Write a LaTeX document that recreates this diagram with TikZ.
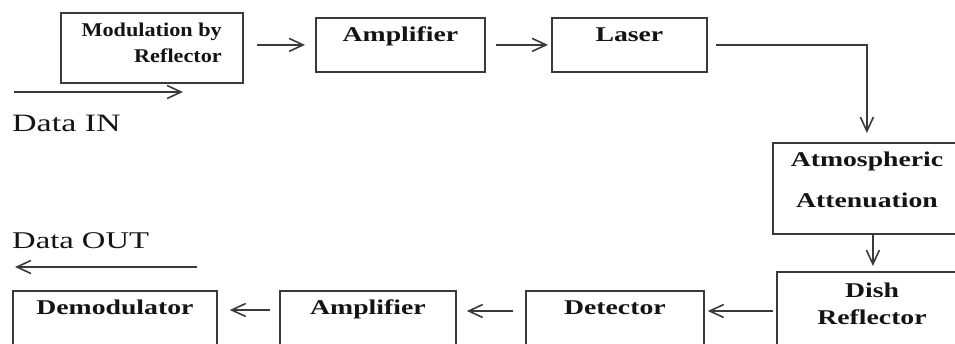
\documentclass[tikz,border=0pt]{standalone}
\usepackage{fontspec}
\setmainfont{Liberation Serif}
\newfontfamily\boxfont{Liberation Serif}[FakeStretch=1.32]
\newfontfamily\modfont{Liberation Serif}[FakeStretch=1.14]
\newfontfamily\datafont{Liberation Serif}[FakeStretch=1.36]
\usetikzlibrary{arrows.meta}
\definecolor{lineclr}{HTML}{3A3A3A}
\definecolor{txtclr}{HTML}{141414}
\tikzset{
  box/.style={draw=lineclr, line width=1.8pt, rectangle, anchor=north west, inner sep=0pt},
  arr/.style={draw=lineclr, line width=1.6pt, -{Straight Barb[length=14pt,width=13pt,line width=1.6pt]}},
  lbl/.style={text=txtclr, font=\boxfont\bfseries\fontsize{21}{27}\selectfont, inner sep=0pt, anchor=base},
  datalbl/.style={text=txtclr, inner sep=0pt, anchor=base west}
}
\begin{document}
\begin{tikzpicture}[x=1pt,y=-1pt]
\useasboundingbox (0,0) rectangle (955,344);
\clip (0,0) rectangle (955,344);
% boxes
\node[box, minimum width=182pt, minimum height=70pt] (mod) at (60,12) {};
\node[box, minimum width=169pt, minimum height=54pt] (amp1) at (315,17) {};
\node[box, minimum width=155pt, minimum height=54pt] (laser) at (551,17) {};
\node[box, minimum width=188pt, minimum height=91pt] (atm) at (772,142) {};
\node[box, minimum width=192pt, minimum height=100pt] (dish) at (776,271) {};
\node[box, minimum width=178pt, minimum height=80pt] (det) at (525,290) {};
\node[box, minimum width=176pt, minimum height=80pt] (amp2) at (279,290) {};
\node[box, minimum width=204pt, minimum height=80pt] (demod) at (12,290) {};
% box texts (multi-line nodes: base = last line's baseline)
\node[text=txtclr, font=\modfont\bfseries\fontsize{19.5}{26}\selectfont, inner sep=0pt, anchor=base east, align=right] (modt) at (222,63) {Modulation by\\Reflector};
\node[lbl] (amp1t) at ([yshift=-25pt]amp1.north) {Amplifier};
\node[lbl] (lasert) at ([yshift=-25pt]laser.north) {Laser};
\node[lbl, align=center, font=\boxfont\bfseries\fontsize{21}{41}\selectfont] (atmt) at (867,208) {Atmospheric\\Attenuation};
\node[lbl, align=center] (disht) at (872,324) {Dish\\Reflector};
\node[lbl] (dett) at ([yshift=-25pt]det.north) {Detector};
\node[lbl] (amp2t) at ([yshift=-25pt]amp2.north) {Amplifier};
\node[lbl] (demodt) at ([yshift=-25pt]demod.north) {Demodulator};
% data labels
\node[datalbl, font=\datafont\fontsize{25}{30}\selectfont] (din) at (12,132) {Data IN};
\node[datalbl, font=\datafont\fontsize{24}{30}\selectfont] (dout) at (12,249) {Data OUT};
\coordinate (dinA) at (14,92);
\coordinate (dinB) at (183,92);
\coordinate (doutA) at (197,267);
\coordinate (doutB) at (15,267);
% connectors
\draw[arr] (dinA) -- (dinB);
\draw[arr] (doutA) -- (doutB);
\draw[arr, shorten <=13pt, shorten >=10pt] (mod.east |- amp1.west) -- (amp1.west);
\draw[arr, shorten <=10pt, shorten >=3pt] (amp1.east) -- (laser.west);
\draw[arr, shorten <=8pt, shorten >=9pt] (laser.east) -| (atm.north);
\draw[arr, shorten >=5pt] (dish.north |- atm.south) -- (dish.north);
\draw[arr, shorten <=3pt, shorten >=3pt] ([yshift=-40pt]dish.north west) -- ([yshift=-40pt]dish.north west -| det.east);
\draw[arr, shorten <=12pt, shorten >=10pt] ([yshift=-21pt]det.north west) -- ([yshift=-21pt]det.north west -| amp2.east);
\draw[arr, shorten <=9pt, shorten >=12pt] ([yshift=-20pt]amp2.north west) -- ([yshift=-20pt]amp2.north west -| demod.east);
\end{tikzpicture}
\end{document}
